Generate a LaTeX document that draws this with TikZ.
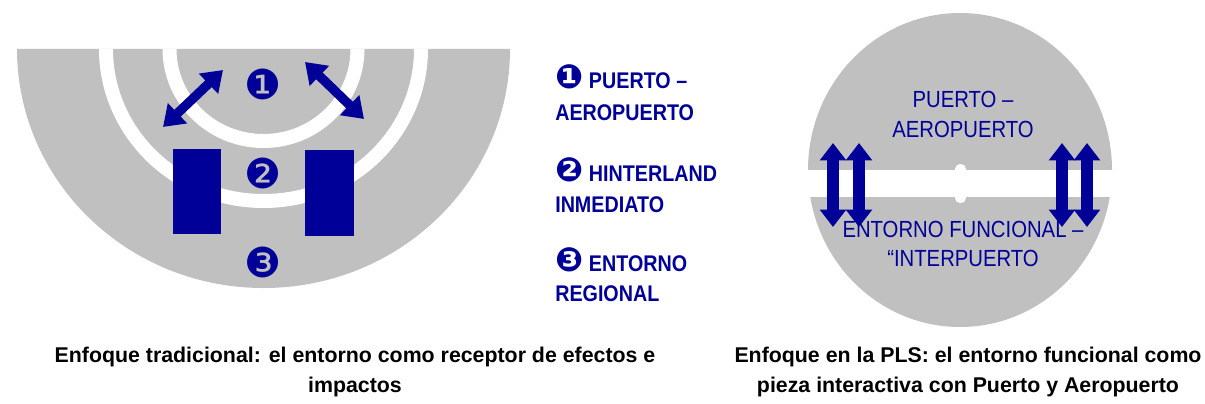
\documentclass[tikz,border=0pt]{standalone}
\usepackage{fontspec}
\setmainfont{Liberation Sans}
\newfontfamily\nar[FakeStretch=0.87]{Liberation Sans}
\newfontfamily\dv{DejaVu Sans}
\usetikzlibrary{arrows.meta}
\definecolor{navy}{HTML}{000099}
\definecolor{disk}{HTML}{C0C0C0}
\newcommand{\legnum}[1]{{\dv\fontsize{25}{19}\selectfont #1}}
\begin{document}
\begin{tikzpicture}[x=0.75pt,y=-0.75pt,
  legend/.style={font=\nar\bfseries\fontsize{17}{19}\selectfont, text=navy, anchor=base west, inner sep=0},
  inlabel/.style={font=\nar\fontsize{17.5}{19}\selectfont, text=navy, anchor=base, inner sep=0},
  caption/.style={font=\bfseries\fontsize{16}{17}\selectfont, text=black, anchor=base, inner sep=0},
  num/.style={font=\dv\fontsize{31}{32}\selectfont, text=navy, inner sep=0},
  ring/.style={draw=white, line width=10.5pt},
  diagarrow/.style={draw=navy, line width=7pt, {Triangle[length=15pt,width=20pt]}-{Triangle[length=15pt,width=20pt]}},
  vertarrow/.style={draw=navy, line width=9.5pt, {Triangle[length=13pt,width=19pt]}-{Triangle[length=13pt,width=19pt]}},
  block/.style={fill=navy}
]
\useasboundingbox (0,0) rectangle (1205,403);
% ---------- left diagram ----------
\fill[disk] (17,49) arc[start angle=180, end angle=0, x radius=246.5, y radius=239] -- cycle;
\draw[ring] (106,49) arc[start angle=180, end angle=0, x radius=157.5, y radius=152];
\draw[ring] (169.5,49) arc[start angle=180, end angle=0, x radius=94, y radius=92];
\fill[block] (173,149) rectangle (221,234);
\fill[block] (305,150) rectangle (354,236);
\coordinate (a1) at (163,127);
\coordinate (a2) at (223,70);
\coordinate (b1) at (305,62);
\coordinate (b2) at (364,119);
\draw[diagarrow] (a1) -- (a2);
\draw[diagarrow] (b1) -- (b2);
\node[num] (n1) at (263,84) {❶};
\node[num] (n2) at (263,173) {❷};
\node[num] (n3) at (263,262) {❸};
% ---------- legend ----------
\node[legend] (l1a) at (555,89) {\legnum{❶} PUERTO –};
\node[legend] (l1b) at (555,120) {AEROPUERTO};
\node[legend] (l2a) at (555,181) {\legnum{❷} HINTERLAND};
\node[legend] (l2b) at (555,212) {INMEDIATO};
\node[legend] (l3a) at (555,271) {\legnum{❸} ENTORNO};
\node[legend] (l3b) at (555,301) {REGIONAL};
% ---------- right diagram ----------
\fill[disk] (960,170) ellipse[x radius=152, y radius=157];
\fill[white] (800,170) rectangle (1120,197);
\fill[white, rounded corners=3.75pt] (955,164) rectangle (966,203);
\coordinate (v1t) at (833,143); \coordinate (v1b) at (833,227);
\coordinate (v2t) at (859,143); \coordinate (v2b) at (859,227);
\coordinate (v3t) at (1062,143); \coordinate (v3b) at (1062,227);
\coordinate (v4t) at (1087,143); \coordinate (v4b) at (1087,227);
\draw[vertarrow] (v1t) -- (v1b);
\draw[vertarrow] (v2t) -- (v2b);
\draw[vertarrow] (v3t) -- (v3b);
\draw[vertarrow] (v4t) -- (v4b);
\node[inlabel] (r1) at (963,108) {PUERTO –};
\node[inlabel] (r2) at (963,137) {AEROPUERTO};
\node[inlabel] (r3) at (963,237) {ENTORNO FUNCIONAL –};
\node[inlabel] (r4) at (963,266) {“INTERPUERTO};
% ---------- captions ----------
\node[caption] (c1a) at (355,362) {Enfoque tradicional: el entorno como receptor de efectos e};
\node[caption] (c1b) at (355,392) {impactos};
\node[caption] (c2a) at (968,362) {Enfoque en la PLS: el entorno funcional como};
\node[caption] (c2b) at (968,392) {pieza interactiva con Puerto y Aeropuerto};
\end{tikzpicture}
\end{document}
